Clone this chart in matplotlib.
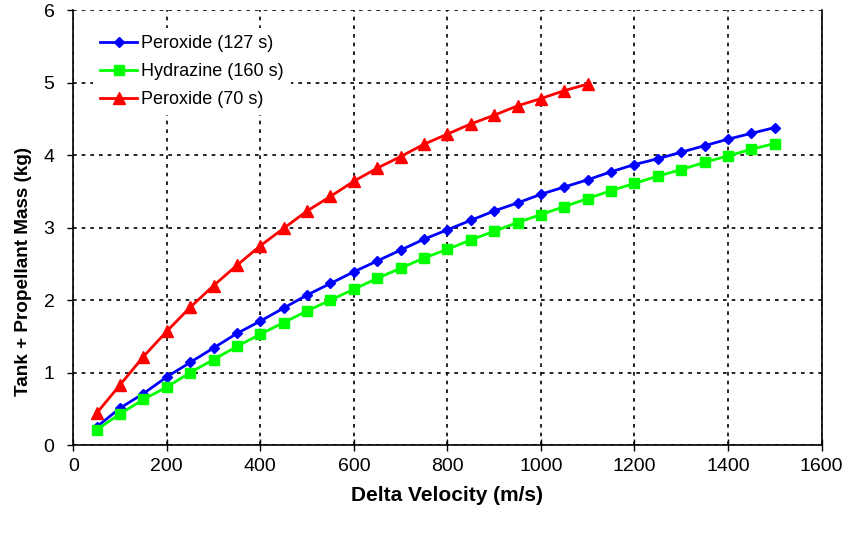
import matplotlib
matplotlib.use("Agg")
import matplotlib.pyplot as plt

plt.rcParams['font.family'] = ['Liberation Sans', 'DejaVu Sans']

dv_long = [50, 100, 150, 200, 250, 300, 350, 400, 450, 500, 550, 600, 650, 700, 750,
           800, 850, 900, 950, 1000, 1050, 1100, 1150, 1200, 1250, 1300, 1350, 1400, 1450, 1500]
dv_short = dv_long[:22]

peroxide_127 = [0.25, 0.51, 0.71, 0.94, 1.14, 1.34, 1.54, 1.71, 1.89, 2.07, 2.23, 2.39, 2.54, 2.69, 2.84,
                2.97, 3.10, 3.23, 3.34, 3.46, 3.56, 3.66, 3.77, 3.87, 3.95, 4.04, 4.13, 4.22, 4.30, 4.38]
hydrazine_160 = [0.21, 0.43, 0.63, 0.80, 1.00, 1.18, 1.36, 1.53, 1.69, 1.85, 2.00, 2.15, 2.30, 2.44, 2.58,
                 2.70, 2.83, 2.95, 3.07, 3.18, 3.29, 3.40, 3.51, 3.61, 3.71, 3.80, 3.90, 3.99, 4.08, 4.16]
peroxide_70 = [0.44, 0.83, 1.22, 1.57, 1.90, 2.20, 2.48, 2.75, 2.99, 3.23, 3.43, 3.64, 3.82, 3.98, 4.15,
               4.29, 4.43, 4.55, 4.68, 4.78, 4.89, 4.98]

x_ticks = [0, 200, 400, 600, 800, 1000, 1200, 1400, 1600]
y_ticks = [0, 1, 2, 3, 4, 5, 6]

fig = plt.figure(figsize=(8.48, 5.33), dpi=100)
ax = fig.add_axes([0.0864, 0.165, 0.8824, 0.816])

ax.plot(dv_long, peroxide_127, color='#0000ff', marker='D', markersize=5.5, lw=2, label='Peroxide (127 s)')
ax.plot(dv_long, hydrazine_160, color='#00ff00', marker='s', markersize=7, lw=2, label='Hydrazine (160 s)')
ax.plot(dv_short, peroxide_70, color='#ff0000', marker='^', markersize=8, lw=2, label='Peroxide (70 s)')

ax.set_xlim(0, 1600)
ax.set_ylim(0, 6)
ax.set_xticks(x_ticks)
ax.set_yticks(y_ticks)
ax.tick_params(axis='x', labelsize=14, direction='inout', length=8, width=1, pad=5)
ax.tick_params(axis='y', labelsize=14, direction='out', length=4.5, width=1, pad=9)
ax.grid(True, color='black', linestyle=(0, (2.2, 3)), linewidth=1.2)
ax.set_axisbelow(True)
ax.spines['top'].set_visible(False)
for s in ['left', 'bottom', 'right']:
    ax.spines[s].set_linewidth(1.2)

ax.set_xlabel('Delta Velocity (m/s)', fontsize=15, fontweight='bold', labelpad=8)
ax.set_ylabel('Tank + Propellant Mass (kg)', fontsize=13.6, fontweight='bold')
ax.yaxis.set_label_coords(-0.055, 0.40)

leg = ax.legend(loc='upper left', bbox_to_anchor=(93 / 848, 505 / 533), bbox_transform=fig.transFigure,
                borderaxespad=0, frameon=True, facecolor='white', edgecolor='none', framealpha=1,
                fancybox=False, fontsize=13, handlelength=2.05, handletextpad=0.2, labelspacing=0.6)

fig.savefig('out.png', dpi=100)
